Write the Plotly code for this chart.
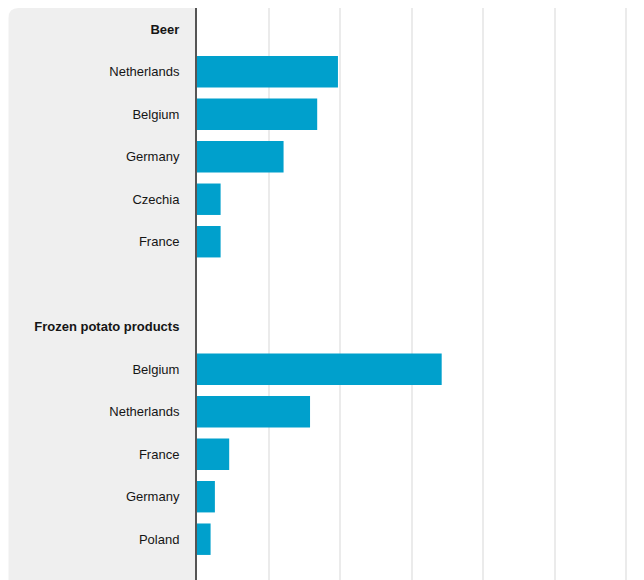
import plotly.graph_objects as go

groups = ["Beer", "Frozen potato products"]
beer_countries = ["Netherlands", "Belgium", "Germany", "Czechia", "France"]
beer_values = [1.97, 1.68, 1.21, 0.33, 0.33]
potato_countries = ["Belgium", "Netherlands", "France", "Germany", "Poland"]
potato_values = [3.42, 1.58, 0.45, 0.25, 0.19]

# Build rows: group header, countries, blank spacer between groups
ys, xs = [], []
row = 0
tickvals, ticktext = [], []
for gi, (g, cs, vs) in enumerate([(groups[0], beer_countries, beer_values),
                                  (groups[1], potato_countries, potato_values)]):
    if gi > 0:
        row += 1  # spacer
    tickvals.append(row)
    ticktext.append(f"<b>{g}</b>")
    row += 1
    for c, v in zip(cs, vs):
        tickvals.append(row)
        ticktext.append(c)
        ys.append(row)
        xs.append(v)
        row += 1

BAR = "#00a0cc"
W, H = 628, 572
ml, mr, mt, mb = 189, 4, 0, 0

fig = go.Figure(go.Bar(
    x=xs, y=ys, orientation="h", marker=dict(color=BAR, line=dict(width=0)),
    width=0.74, hoverinfo="x"
))

# grey label panel with rounded top-left corner (paper coords)
pw = W - ml - mr
ph = H - mt - mb
x0 = (0.5 - ml) / pw
r_x = 10 / pw
r_y = 10 / ph
path = (f"M {x0},-0.1 L {x0},{1 - r_y} Q {x0},1 {x0 + r_x},1 "
        f"L 0,1 L 0,-0.1 Z")
fig.add_shape(type="path", path=path, xref="paper", yref="paper",
              fillcolor="#efefef", line=dict(width=0), layer="below")

fig.update_layout(
    width=W, height=H,
    margin=dict(l=ml, r=mr, t=mt, b=mb, pad=0),
    paper_bgcolor="white", plot_bgcolor="white",
    showlegend=False,
    font=dict(family="Liberation Sans, Arial, sans-serif", size=13, color="#151515"),
)
fig.update_xaxes(
    range=[0, 6.08], dtick=1, tick0=0, showgrid=True, gridcolor="#ebebeb",
    gridwidth=2, zeroline=False, showticklabels=False, ticks="", showline=False,
    fixedrange=True,
)
fig.update_yaxes(
    range=[12.96, -0.5], tickvals=tickvals, ticktext=ticktext,
    showgrid=False, zeroline=False, showline=True, linecolor="#555",
    linewidth=2, ticks="", ticklabelstandoff=13, fixedrange=True,
)

fig.write_html("out.html")
